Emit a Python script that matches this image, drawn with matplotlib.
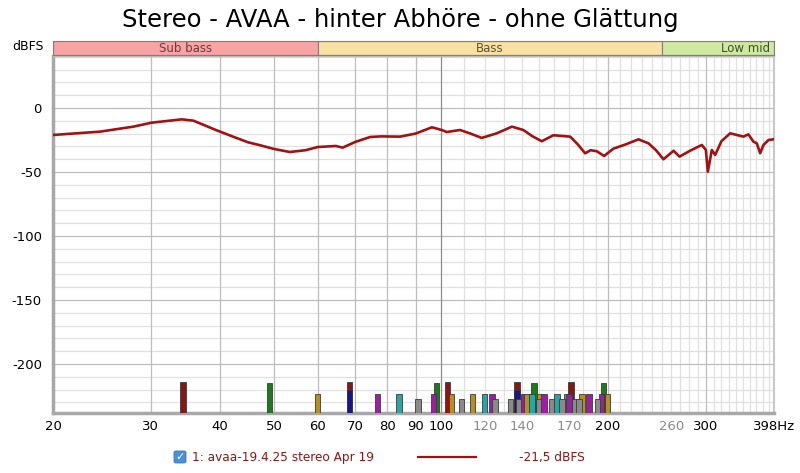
import matplotlib
matplotlib.use("Agg")
import matplotlib.pyplot as plt
from matplotlib.patches import FancyBboxPatch
from matplotlib.lines import Line2D
from matplotlib.ticker import FixedLocator, NullLocator

plt.rcParams['font.family'] = ['DejaVu Sans']
plt.rcParams['axes.unicode_minus'] = False

# frequency response (Hz, dBFS)
freq = [20, 24.3, 27.9, 30.1, 34.1, 35.8, 39.3, 42.2, 44.9, 47.1, 50, 53.4, 57, 60,
        64.7, 66.5, 70, 74.5, 78, 84.4, 90, 96.3, 100.3, 102.4, 108.2, 113, 118.4,
        126, 134.2, 140.7, 146, 151.9, 159.4, 170.9, 176, 181.8, 186, 190.8, 196.7,
        204.4, 215, 226.8, 236.4, 244, 251.6, 262.4, 269, 281, 295, 300, 302.5,
        307.5, 311.8, 320, 331.8, 350.6, 357.9, 365.4, 370.5, 375.8, 381, 389, 397.2]
level = [-21.1, -18.5, -14.6, -11.5, -8.9, -9.9, -17.2, -22.4, -26.8, -29, -32, -34.4, -33, -30.5,
         -29.7, -31, -26.6, -22.7, -22.2, -22.4, -20, -15.1, -17.2, -18.8, -17.2, -20, -23.4,
         -19.8, -14.6, -17.2, -22, -26, -21.3, -22.4, -28, -35.4, -33, -33.8, -37.5,
         -31.8, -28.5, -24.5, -27.6, -33, -40.1, -33.4, -38, -33.4, -28.9, -32.8, -49.8,
         -32.8, -36.7, -26, -19.8, -22.4, -20.6, -26.3, -27.6, -35.4, -28.9, -25, -24.5]

# marker bars at the bottom (Hz, top in dBFS, colour key)
bar_freq = [34.3, 49.1, 59.9, 68.5, 68.5, 76.8, 84.0, 90.9, 96.8, 98.2, 102.8, 104.3,
            108.7, 113.8, 119.6, 123.6, 125.1, 133.2, 137.1, 137.1, 137.8, 140.6, 142.9,
            145.9, 147.1, 149.6, 150.8, 153.3, 157.9, 161.8, 165.2, 168.7, 171.5, 170.0,
            174.4, 177.3, 179.5, 184.8, 191.1, 194.3, 196.3, 199.2]
bar_top = [-214, -215, -223.5, -214, -220, -223.5, -223.5, -227.5, -223.5, -215, -214, -223.5,
           -227.5, -223.5, -223.5, -223.5, -227.5, -227.5, -214, -220, -227.5, -223.5, -223.5,
           -223.5, -215, -227.5, -223.5, -223.5, -227.5, -223.5, -227.5, -223.5, -214, -223.5,
           -227.5, -227.5, -223.5, -223.5, -227.5, -223.5, -215, -223.5]
bar_kind = ['r', 'g', 'y', 'r', 'b', 'm', 'c', 'k', 'm', 'g', 'r', 'y',
            'k', 'y', 'c', 'm', 'k', 'k', 'r', 'b', 'k', 'm', 'y',
            'c', 'g', 'k', 'y', 'm', 'k', 'c', 'k', 'c', 'r', 'm',
            'k', 'k', 'y', 'm', 'k', 'm', 'g', 'y']
kind_color = {'r': '#8e1414', 'g': '#1c7a1c', 'y': '#b88f1c', 'b': '#16168c',
              'm': '#a11ca6', 'c': '#22a8a8', 'k': '#8a8a8a'}

bands = [(20, 60, 'Sub bass', '#f9a4a4', '#6a3a3a'),
         (60, 250, 'Bass', '#f8e1a2', '#5e5234'),
         (250, 398, 'Low mid', '#cfe9a0', '#3f5032')]

xticks = [20, 30, 40, 50, 60, 70, 80, 90, 100, 120, 140, 170, 200, 260, 300, 398]
xlabels = ['20', '30', '40', '50', '60', '70', '80', '90', '100', '120', '140', '170',
           '200', '260', '300', '398Hz']
xlabel_gray = [120, 140, 170, 260]
yticks = [0, -50, -100, -150, -200]

XMIN, XMAX = 20, 398
YMIN, YMAX = -238.3, 40.6

fig = plt.figure(figsize=(8, 4.73), dpi=100)
ax = fig.add_axes([53 / 800, 60 / 473, 721 / 800, 357 / 473])
ax.set_xscale('log')
ax.set_xlim(XMIN, XMAX)
ax.set_ylim(YMIN, YMAX)

# grid
for f in range(30, 400, 10):
    if f == 100:
        c, z = '#8c8c8c', 1.2
    elif f < 100 or f in (200, 300):
        c, z = '#bdbdbd', 1.1
    else:
        c, z = '#e0e0e0', 1.0
    ax.axvline(f, color=c, lw=0.9, zorder=z)
for v in range(-230, 41, 10):
    c = '#bdbdbd' if v % 50 == 0 else '#e0e0e0'
    ax.axhline(v, color=c, lw=0.9, zorder=1)

ax.plot(freq, level, color='#a31212', lw=1.9, zorder=4, solid_joinstyle='round')

# bars, tallest first so shorter ones sit on top
order = sorted(range(len(bar_freq)), key=lambda i: bar_top[i], reverse=True)
half = 10 ** (2.6 / 555)
for i in order:
    f = bar_freq[i]
    ax.bar(f / half, bar_top[i] - YMIN, width=f * half - f / half, bottom=YMIN, align='edge',
           color=kind_color[bar_kind[i]], edgecolor='#3a3a3a', linewidth=0.6, zorder=3)

ax.xaxis.set_major_locator(FixedLocator(xticks))
ax.xaxis.set_minor_locator(NullLocator())
ax.set_xticklabels(xlabels)
for lab, f in zip(ax.get_xticklabels(), xticks):
    lab.set_color('#8a8a8a' if f in xlabel_gray else 'black')
ax.set_yticks(yticks)
ax.set_yticklabels([str(v) for v in yticks])
ax.yaxis.set_minor_locator(NullLocator())
ax.tick_params(length=0, labelsize=9.5, pad=5)
ax.tick_params(axis='y', pad=8)

for s in ('left', 'bottom'):
    ax.spines[s].set_color('#a8a8a8')
    ax.spines[s].set_linewidth(2.5)
ax.spines['right'].set_color('#c8c8c8')
ax.spines['right'].set_linewidth(1.5)
ax.spines['top'].set_color('#bdbdbd')
ax.spines['top'].set_linewidth(1)

# band strip
bx = fig.add_axes([53 / 800, (473 - 55) / 473, 721 / 800, 14 / 473])
bx.set_xscale('log')
bx.set_xlim(XMIN, XMAX)
bx.set_ylim(0, 1)
for lo, hi, name, fc, tc in bands:
    bx.axvspan(lo, hi, facecolor=fc, edgecolor='#8a7a7a', lw=0.8)
    if name == 'Low mid':
        bx.text(hi * 0.985, 0.5, name, ha='right', va='center', fontsize=8.5, color=tc)
    else:
        bx.text((lo * hi) ** 0.5, 0.5, name, ha='center', va='center', fontsize=8.5, color=tc)
bx.set_xticks([])
bx.set_yticks([])
bx.xaxis.set_minor_locator(NullLocator())
for s in bx.spines.values():
    s.set_color('#8a7a7a')
    s.set_linewidth(0.8)
fig.text(44 / 800, 1 - 47 / 473, 'dBFS', ha='right', va='center', fontsize=9)

fig.text(0.5, 1 - 20 / 473, 'Stereo - AVAA - hinter Abhöre - ohne Glättung',
         ha='center', va='center', fontsize=17.5)

# legend row
ly = 1 - 457 / 473
fig.patches.append(FancyBboxPatch((174 / 800, ly - 6 / 473), 12 / 800, 12 / 473,
                                  boxstyle='round,pad=0,rounding_size=0.003',
                                  transform=fig.transFigure, facecolor='#4a90d9',
                                  edgecolor='#3a78c0', lw=0.6))
fig.text(180 / 800, ly, '✓', ha='center', va='center', fontsize=8, color='white',
         fontweight='bold')
fig.text(192 / 800, ly, '1: avaa-19.4.25 stereo Apr 19', ha='left', va='center',
         fontsize=8.7, color='#8e1616')
fig.lines.append(Line2D([418 / 800, 476 / 800], [ly, ly], transform=fig.transFigure,
                        color='#9b1414', lw=1.6))
fig.text(585 / 800, ly, '-21,5 dBFS', ha='right', va='center', fontsize=8.7, color='#8e1616')

fig.savefig('out.png', dpi=100)
